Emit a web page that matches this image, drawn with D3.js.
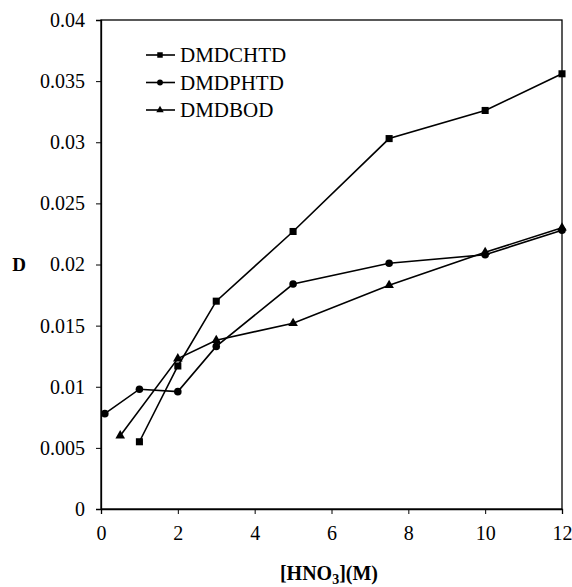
<!DOCTYPE html>
<html><head><meta charset="utf-8">
<script src="https://cdn.jsdelivr.net/npm/d3@7"></script>
<style>body{margin:0;background:#fff}svg{display:block}</style>
</head><body>
<svg id="c" width="572" height="587"></svg>
<script>
const xTicks = [0, 2, 4, 6, 8, 10, 12];
const yTicks = [0, 0.005, 0.01, 0.015, 0.02, 0.025, 0.03, 0.035, 0.04];
const yTickLabels = ["0", "0.005", "0.01", "0.015", "0.02", "0.025", "0.03", "0.035", "0.04"];

const chtdX = [1, 2, 3, 5, 7.5, 10, 12];
const chtdY = [0.0055, 0.0117, 0.0170, 0.0227, 0.0303, 0.0326, 0.0356];
const phtdX = [0.1, 1, 2, 3, 5, 7.5, 10, 12];
const phtdY = [0.0078, 0.0098, 0.0096, 0.0133, 0.0184, 0.0201, 0.0208, 0.0228];
const bodX = [0.5, 2, 3, 5, 7.5, 10, 12];
const bodY = [0.0060, 0.0123, 0.0138, 0.0152, 0.0183, 0.0210, 0.0230];
const seriesNames = ["DMDCHTD", "DMDPHTD", "DMDBOD"];

const svg = d3.select("#c");
const L = 101, R = 562, T = 20, B = 509;
const x = d3.scaleLinear().domain([0, 12]).range([L, R]);
const y = d3.scaleLinear().domain([0, 0.04]).range([B, T]);
const font = "'Liberation Serif','Times New Roman',serif";

svg.append("rect").attr("x", L).attr("y", T).attr("width", R - L).attr("height", B - T)
  .attr("fill", "none").attr("stroke", "#000").attr("stroke-width", 1.3);

const xAxis = svg.append("g").attr("transform", `translate(0,${B})`)
  .call(d3.axisBottom(x).tickValues(xTicks).tickSize(5).tickPadding(12).tickFormat(d3.format("d")));
const yAxis = svg.append("g").attr("transform", `translate(${L},0)`)
  .call(d3.axisLeft(y).tickValues(yTicks).tickSize(5).tickPadding(11).tickFormat((d, i) => yTickLabels[i]));
[xAxis, yAxis].forEach(g => {
  g.select(".domain").attr("stroke", "#000").attr("stroke-width", 1.3);
  g.selectAll(".tick line").attr("stroke", "#000");
  g.selectAll("text").attr("font-family", font).attr("font-size", 20).attr("fill", "#000");
});

const line = d3.line().x(d => x(d[0])).y(d => y(d[1]));
const series = [
  {name: seriesNames[0], xs: chtdX, ys: chtdY, sym: d3.symbolSquare, size: 50},
  {name: seriesNames[1], xs: phtdX, ys: phtdY, sym: d3.symbolCircle, size: 45},
  {name: seriesNames[2], xs: bodX, ys: bodY, sym: d3.symbolTriangle, size: 40},
];
series.forEach(s => {
  const pts = s.xs.map((v, i) => [v, s.ys[i]]);
  svg.append("path").attr("d", line(pts)).attr("fill", "none").attr("stroke", "#000").attr("stroke-width", 1.6);
  svg.append("g").selectAll("path").data(pts).join("path")
    .attr("d", d3.symbol(s.sym, s.size))
    .attr("transform", d => `translate(${x(d[0])},${y(d[1])})`)
    .attr("fill", "#000");
});

series.forEach((s, i) => {
  const ly = 55 + i * 27.5;
  svg.append("line").attr("x1", 146).attr("x2", 175).attr("y1", ly).attr("y2", ly)
    .attr("stroke", "#000").attr("stroke-width", 1.6);
  svg.append("path").attr("d", d3.symbol(s.sym, s.size * 0.6)).attr("transform", `translate(160,${ly})`).attr("fill", "#000");
  svg.append("text").attr("x", 180).attr("y", ly + 7).attr("font-family", font).attr("font-size", 21).text(s.name);
});

svg.append("text").attr("x", 19).attr("y", 271).attr("text-anchor", "middle")
  .attr("font-family", font).attr("font-size", 19).attr("font-weight", "bold").text("D");
const t = svg.append("text").attr("x", 329).attr("y", 580).attr("text-anchor", "middle")
  .attr("font-family", font).attr("font-size", 20).attr("font-weight", "bold");
t.append("tspan").text("[HNO");
t.append("tspan").attr("font-size", 14).attr("dy", 4).text("3");
t.append("tspan").attr("dy", -4).text("](M)");
</script>
</body></html>
